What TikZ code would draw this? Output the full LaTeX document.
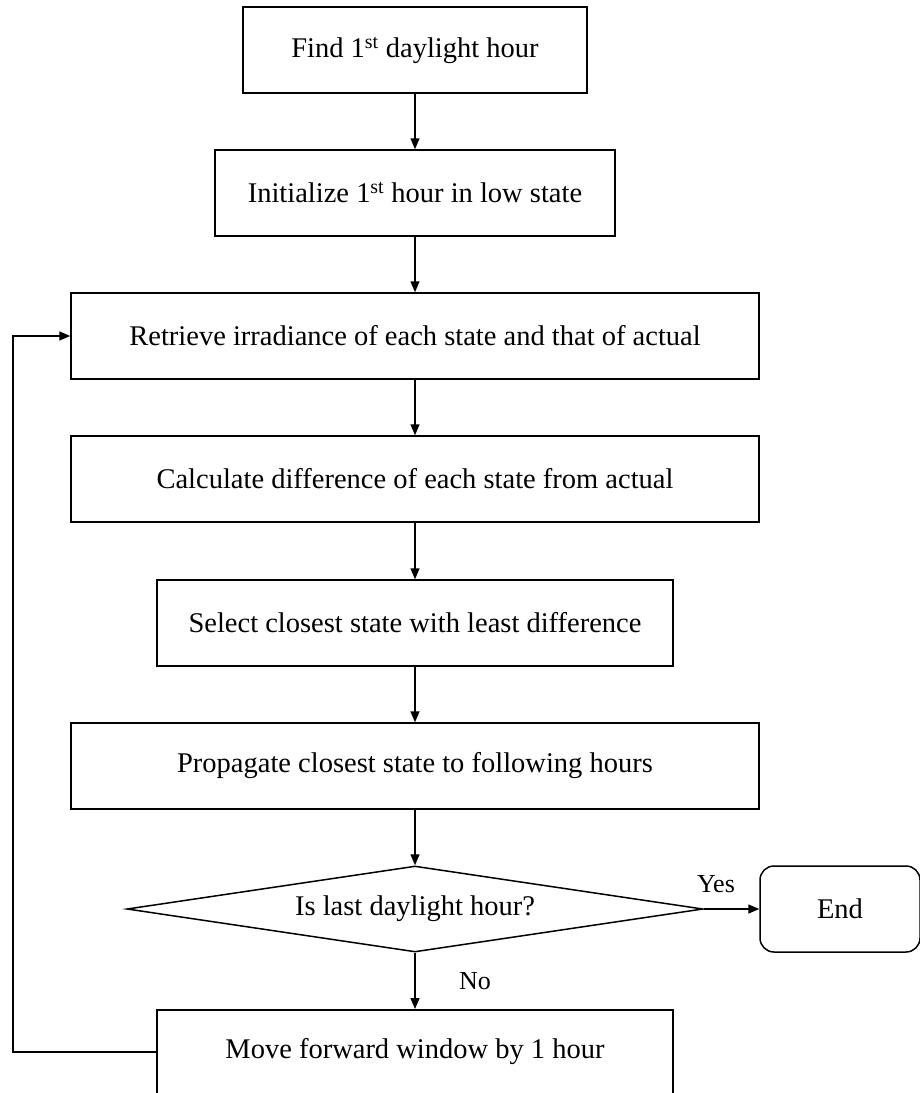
\documentclass[tikz,border=0pt]{standalone}
\usepackage{fontspec}
\setmainfont{Liberation Serif}
\usetikzlibrary{shapes.geometric,arrows.meta}
\begin{document}
\begin{tikzpicture}[x=1pt,y=-1pt,
  every node/.style={font=\fontsize{28.5}{32}\selectfont},
  box/.style={draw, line width=1.5pt, minimum height=86pt, inner sep=0pt},
  dec/.style={draw, diamond, line width=1.5pt, aspect=6.7, minimum width=576pt, minimum height=86pt, inner sep=0pt},
  term/.style={draw, line width=1.5pt, rounded corners=14pt, minimum width=160pt, minimum height=86pt, inner sep=0pt},
  arr/.style={line width=1.5pt, -{Triangle[length=11pt,width=9pt]}},
  lbl/.style={font=\fontsize{26}{30}\selectfont}]
\useasboundingbox (0,0) rectangle (920,1093);
\clip (0,0) rectangle (920,1093);
\node[box, minimum width=344pt] (b1) at (415,50) {Find 1\textsuperscript{st} daylight hour};
\node[box, minimum width=400pt] (b2) at (415,193) {Initialize 1\textsuperscript{st} hour in low state};
\node[box, minimum width=688pt] (b3) at (415,336) {Retrieve irradiance of each state and that of actual};
\node[box, minimum width=688pt] (b4) at (415,479) {Calculate difference of each state from actual};
\node[box, minimum width=516pt] (b5) at (415,623) {Select closest state with least difference};
\node[box, minimum width=688pt] (b6) at (415,766) {Propagate closest state to following hours};
\node[dec] (d) at (415,909) {Is last daylight hour?};
\node[term] (end) at (840,909) {End};
\node[box, minimum width=516pt, minimum height=86pt, anchor=north] (b7) at (415,1009) {};
\node (b7t) at (415,1052) {Move forward window by 1 hour};
\coordinate (lb) at (13,1052);
\coordinate (lt) at (13,336);
\draw[arr] (b1) -- (b2);
\draw[arr] (b2) -- (b3);
\draw[arr] (b3) -- (b4);
\draw[arr] (b4) -- (b5);
\draw[arr] (b5) -- (b6);
\draw[arr] (b6) -- (d);
\draw[arr] (d.east) -- (end.west) node[lbl, pos=0.22, above=12pt] {Yes};
\draw[arr] (d.south) -- (b7.north) node[lbl, midway, right=40pt] {No};
\draw[arr] (b7.west |- b7t) -- (lb) -- (lt) -- (b3.west);
\end{tikzpicture}
\end{document}
